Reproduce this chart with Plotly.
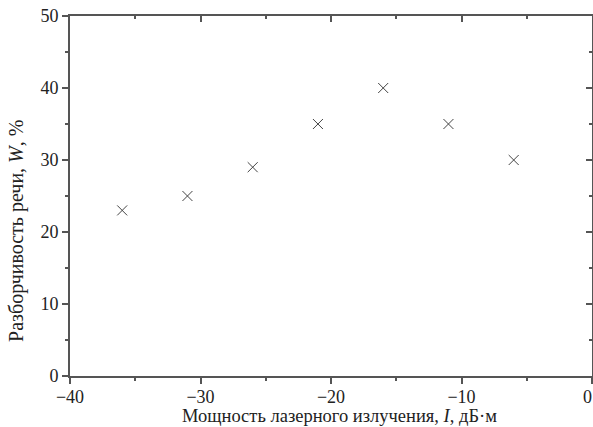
import plotly.graph_objects as go

power_dbm = [-36, -31, -26, -21, -16, -11, -6]
intelligibility = [23, 25, 29, 35, 40, 35, 30]

x_range = [-40, 0]
y_range = [0, 50]
x_ticks = [-40, -30, -20, -10, 0]
x_labels = ["\u221240", "\u221230", "\u221220", "\u221210", "0\u2002"]
y_ticks = [0, 10, 20, 30, 40, 50]

x_title = "Мощность лазерного излучения, <i>I</i>, дБ·м"
y_title = "Разборчивость речи, <i>W</i>, %"

axis_color = "#555555"
font_family = "Liberation Serif, Times New Roman, serif"

fig = go.Figure()
fig.add_trace(go.Scatter(
    x=power_dbm, y=intelligibility, mode="markers",
    marker=dict(symbol="x-thin", size=10, line=dict(width=1, color="#444444")),
    showlegend=False,
))
fig.add_trace(go.Scatter(x=[None], y=[None], xaxis="x2", yaxis="y2", showlegend=False, hoverinfo="skip"))

common = dict(showgrid=False, zeroline=False, showline=True, linecolor=axis_color, linewidth=2,
              tickcolor=axis_color, tickwidth=1.5, ticklen=6, automargin=False)
minor = dict(ticklen=3, tickcolor=axis_color, tickwidth=1.5, showgrid=False)

fig.update_layout(
    width=593, height=427,
    margin=dict(l=70, r=1, t=16, b=51),
    paper_bgcolor="white", plot_bgcolor="white",
    font=dict(family=font_family, size=18, color="#222222"),
    xaxis=dict(range=x_range, tickvals=x_ticks, ticktext=x_labels, ticks="outside",
               ticklabeloverflow="allow", ticklabelstandoff=-3,
               minor=dict(dtick=5, ticks="outside", **minor),
               **common),
    yaxis=dict(range=y_range, tickvals=y_ticks, ticks="outside",
               minor=dict(dtick=5, ticks="outside", **minor),
               **common),
    xaxis2=dict(range=x_range, overlaying="x", side="top", tickvals=x_ticks, ticks="inside",
                showticklabels=False, minor=dict(dtick=5, ticks="inside", **minor), **common),
    yaxis2=dict(range=y_range, overlaying="y", side="right", tickvals=y_ticks, ticks="inside",
                showticklabels=False, minor=dict(dtick=5, ticks="inside", **minor), **common),
    annotations=[
        dict(text=x_title, xref="paper", yref="paper", x=0.517, y=0, yshift=-40,
             xanchor="center", yanchor="middle", showarrow=False, font=dict(size=18.5)),
        dict(text=y_title, xref="paper", yref="paper", x=0, xshift=-53, y=0.403,
             xanchor="center", yanchor="middle", textangle=-90, showarrow=False,
             font=dict(size=20)),
    ],
)

fig.write_html("out.html", config={"displayModeBar": False},
               post_script="document.body.style.margin='0';document.body.style.overflow='hidden';")
